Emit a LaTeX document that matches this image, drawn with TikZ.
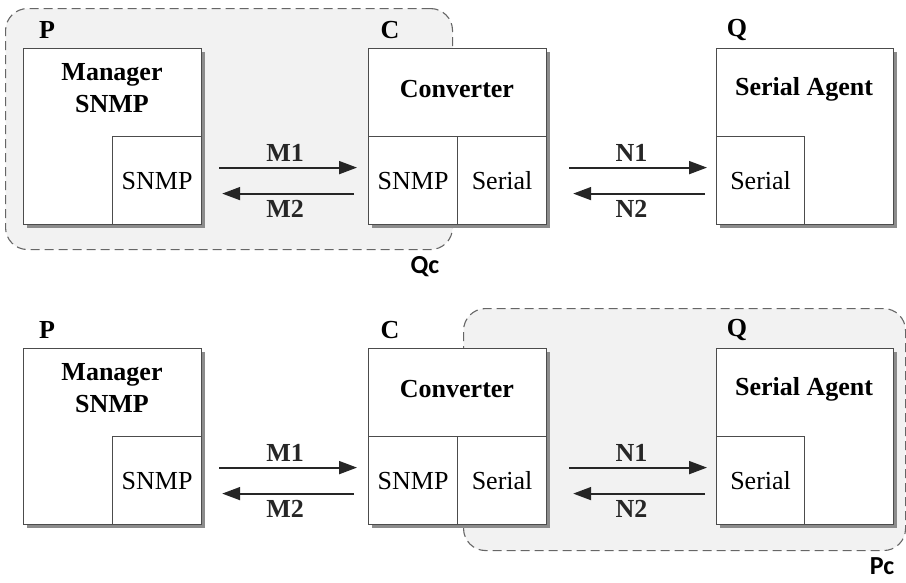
\documentclass[tikz,border=0pt]{standalone}
\usepackage{fontspec}
\setmainfont{Liberation Serif}
\newfontfamily\zonefont{Carlito}
\usetikzlibrary{arrows.meta,shadows,calc}
\tikzset{
  box/.style={draw=black!70, line width=1.2pt, fill=white, inner sep=0pt},
  outerbox/.style={box, drop shadow={shadow xshift=3pt, shadow yshift=-3pt, fill=black!45, opacity=1}},
  region/.style={draw=black!60, line width=1.1pt, dash pattern=on 9pt off 5pt, fill=black!5, rounded corners=22pt, inner sep=0pt},
  arr/.style={-{Triangle[length=18pt,width=13pt]}, line width=1.8pt, black!85},
  bl/.style={font=\fontsize{26}{31}\selectfont\bfseries, align=center, inner sep=0pt},
  rg/.style={font=\fontsize{26}{31}\selectfont},
  zone/.style={font=\zonefont\fontsize{26}{30}\selectfont\bfseries, inner sep=0pt}
}
\begin{document}
\begin{tikzpicture}[x=1pt,y=-1pt]
\useasboundingbox (0,0) rectangle (906,582);
% shaded regions
\node[region, minimum width=447pt, minimum height=241pt, anchor=north west] (Qc) at (5,8) {};
\node[zone] (Qclab) at (425,267) {Qc};
\node[region, minimum width=442pt, minimum height=242pt, anchor=north west] (Pc) at (463,308) {};
\node[zone] (Pclab) at (882,566) {Pc};
\foreach \r/\o in {t/0,b/300}{
  \begin{scope}[yshift=-\o pt]
    % P
    \node[outerbox, minimum width=178pt, minimum height=176pt, anchor=north west] (\r P) at (23,48) {};
    \node[box, rg, minimum width=89pt, minimum height=88pt, anchor=south east] (\r Ps) at (\r P.south east) {SNMP};
    \node[bl] (\r Pt) at (112,88) {Manager\\[1pt]SNMP};
    \node[bl] (\r Pl) at (47,30) {P};
    % C
    \node[outerbox, minimum width=178pt, minimum height=176pt, anchor=north west] (\r C) at (368,48) {};
    \node[box, rg, minimum width=89pt, minimum height=88pt, anchor=south west] (\r Cs) at (\r C.south west) {SNMP};
    \node[box, rg, minimum width=89pt, minimum height=88pt, anchor=south east] (\r Cr) at (\r C.south east) {Serial};
    \node[bl] (\r Ct) at (457,89) {Converter};
    \node[bl] (\r Cl) at (390,30) {C};
    % Q
    \node[outerbox, minimum width=177pt, minimum height=176pt, anchor=north west] (\r Q) at (716,48) {};
    \node[box, rg, minimum width=88pt, minimum height=88pt, anchor=south west] (\r Qs) at (\r Q.south west) {Serial};
    \node[bl] (\r Qt) at (804,89) {Serial Agent};
    \node[bl] (\r Ql) at (737,30) {Q};
    % arrows
    \draw[arr, shorten <=17pt, shorten >=11pt] ([yshift=13pt]\r Ps.east) -- node[bl, above=5pt] {M1} ([yshift=13pt]\r Cs.west);
    \draw[arr, shorten <=14pt, shorten >=20pt] ([yshift=-13pt]\r Cs.west) -- node[bl, below=6pt] {M2} ([yshift=-13pt]\r Ps.east);
    \draw[arr, shorten <=22pt, shorten >=9pt] ([yshift=13pt]\r Cr.east) -- node[bl, above=5pt] {N1} ([yshift=13pt]\r Qs.west);
    \draw[arr, shorten <=11pt, shorten >=26pt] ([yshift=-13pt]\r Qs.west) -- node[bl, below=6pt] {N2} ([yshift=-13pt]\r Cr.east);
  \end{scope}
}
\end{tikzpicture}
\end{document}
